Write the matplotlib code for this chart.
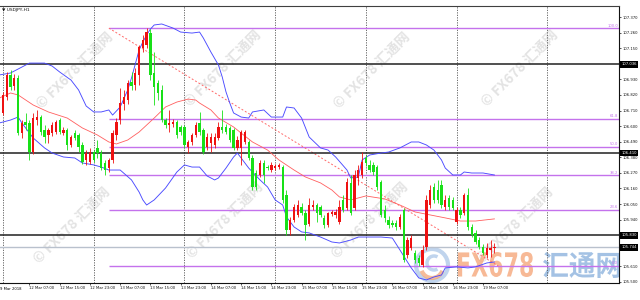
import matplotlib
matplotlib.use("Agg")
import numpy as np
import matplotlib.pyplot as plt
from matplotlib.textpath import TextPath
from matplotlib.patches import PathPatch, Circle, Arc
from matplotlib.font_manager import FontProperties
from matplotlib.transforms import Affine2D, IdentityTransform, blended_transform_factory

# ---------------- data (USDJPY H1, bar index 0 = 12 Mar 00:00) ----------------
hours = list(range(131))
opens = [106.693, 106.806, 106.961, 106.883, 106.940, 106.551, 106.629, 106.622, 106.417, 106.643,
         106.664, 106.573, 106.537, 106.551, 106.558, 106.643, 106.551, 106.573, 106.467, 106.551,
         106.537, 106.467, 106.361, 106.347, 106.417, 106.446, 106.410, 106.340, 106.304, 106.361,
         106.537, 106.643, 106.756, 106.784, 106.911, 106.890, 106.961, 107.151, 107.172, 107.257,
         106.975, 106.904, 106.855, 106.643, 106.608, 106.615, 106.629, 106.594, 106.594, 106.453,
         106.488, 106.537, 106.622, 106.573, 106.453, 106.481, 106.467, 106.516, 106.594, 106.594,
         106.587, 106.573, 106.446, 106.446, 106.488, 106.488, 106.375, 106.269, 106.255, 106.340,
         106.311, 106.290, 106.304, 106.311, 106.311, 106.114, 105.867, 105.937, 105.973, 106.029,
         105.987, 105.909, 106.029, 106.043, 106.029, 105.952, 105.902, 105.980, 105.973, 105.923,
         106.079, 106.022, 106.199, 106.022, 106.234, 106.255, 106.375, 106.326, 106.326, 106.311,
         106.206, 106.008, 105.937, 105.916, 105.916, 105.888, 106.008, 105.690, 105.740, 105.705,
         105.669, 105.620, 105.747, 106.043, 106.170, 106.149, 106.184, 106.029, 106.093, 106.079,
         105.923, 106.008, 105.987, 106.114, 105.888, 105.846, 105.796, 105.747, 105.690, 105.726,
         105.740]
highs = [106.841, 106.982, 106.996, 106.968, 106.961, 106.643, 106.693, 106.643, 106.693, 106.714,
         106.678, 106.608, 106.587, 106.629, 106.643, 106.657, 106.594, 106.587, 106.537, 106.573,
         106.551, 106.488, 106.431, 106.446, 106.431, 106.502, 106.431, 106.361, 106.375, 106.573,
         106.657, 106.869, 106.855, 106.925, 106.982, 107.010, 107.172, 107.243, 107.292, 107.285,
         107.123, 106.925, 106.890, 106.657, 106.714, 106.650, 106.643, 106.608, 106.608, 106.502,
         106.551, 106.629, 106.700, 106.587, 106.551, 106.551, 106.551, 106.629, 106.714, 106.615,
         106.601, 106.587, 106.530, 106.573, 106.573, 106.502, 106.396, 106.290, 106.361, 106.361,
         106.326, 106.347, 106.333, 106.340, 106.326, 106.149, 105.959, 106.050, 106.079, 106.057,
         106.008, 106.093, 106.079, 106.057, 106.043, 105.973, 105.994, 106.008, 106.015, 106.079,
         106.114, 106.234, 106.255, 106.290, 106.326, 106.417, 106.396, 106.361, 106.347, 106.326,
         106.220, 106.043, 105.966, 105.937, 105.937, 105.980, 106.022, 105.817, 105.832, 105.726,
         105.690, 105.761, 106.114, 106.184, 106.199, 106.220, 106.220, 106.114, 106.114, 106.100,
         106.029, 106.029, 106.128, 106.163, 105.909, 105.867, 105.817, 105.768, 105.775, 105.796,
         105.775]
lows = [106.678, 106.784, 106.855, 106.855, 106.537, 106.516, 106.573, 106.361, 106.403, 106.608,
        106.537, 106.481, 106.481, 106.530, 106.544, 106.544, 106.537, 106.431, 106.453, 106.502,
        106.417, 106.333, 106.326, 106.333, 106.347, 106.375, 106.290, 106.255, 106.276, 106.340,
        106.502, 106.615, 106.714, 106.756, 106.855, 106.855, 106.890, 107.123, 107.151, 106.925,
        106.749, 106.784, 106.629, 106.587, 106.558, 106.594, 106.516, 106.537, 106.446, 106.410,
        106.467, 106.523, 106.537, 106.403, 106.431, 106.417, 106.446, 106.502, 106.551, 106.544,
        106.488, 106.431, 106.431, 106.326, 106.474, 106.361, 106.149, 106.149, 106.241, 106.199,
        106.290, 106.276, 106.290, 106.297, 106.057, 105.832, 105.832, 105.923, 105.959, 105.973,
        105.796, 105.895, 106.008, 105.923, 105.959, 105.881, 105.888, 105.966, 105.952, 105.909,
        105.994, 106.008, 105.973, 106.008, 106.184, 106.234, 106.319, 106.276, 106.255, 106.149,
        105.959, 105.923, 105.881, 105.888, 105.867, 105.874, 105.641, 105.669, 105.726, 105.634,
        105.613, 105.606, 105.726, 106.022, 106.057, 106.057, 106.022, 106.008, 106.008, 106.008,
        105.909, 105.952, 105.973, 105.867, 105.817, 105.768, 105.733, 105.690, 105.669, 105.676,
        105.705]
closes = [106.820, 106.961, 106.876, 106.940, 106.551, 106.622, 106.608, 106.417, 106.657, 106.664,
          106.558, 106.523, 106.573, 106.608, 106.629, 106.558, 106.573, 106.467, 106.523, 106.516,
          106.453, 106.347, 106.410, 106.417, 106.361, 106.410, 106.304, 106.290, 106.361, 106.551,
          106.629, 106.763, 106.806, 106.904, 106.883, 106.975, 107.158, 107.208, 107.264, 106.961,
          106.876, 106.834, 106.643, 106.608, 106.622, 106.629, 106.537, 106.558, 106.467, 106.488,
          106.537, 106.608, 106.558, 106.417, 106.523, 106.523, 106.523, 106.594, 106.573, 106.558,
          106.502, 106.446, 106.502, 106.558, 106.558, 106.375, 106.170, 106.170, 106.340, 106.255,
          106.304, 106.326, 106.319, 106.326, 106.079, 105.867, 105.937, 106.029, 106.043, 105.987,
          105.902, 106.043, 106.043, 105.987, 105.973, 105.902, 105.987, 105.994, 105.994, 106.029,
          106.008, 106.206, 105.987, 106.255, 106.290, 106.347, 106.340, 106.290, 106.276, 106.170,
          105.973, 105.952, 105.902, 105.902, 105.888, 105.959, 105.655, 105.796, 105.810, 105.655,
          105.634, 105.726, 106.079, 106.149, 106.079, 106.079, 106.043, 106.079, 106.029, 106.022,
          106.008, 105.973, 106.114, 105.888, 105.832, 105.782, 105.747, 105.705, 105.740, 105.740,
          105.744]

# Bollinger bands
upper_idx = [-1, 2, 7, 11, 13, 15, 18, 20, 22, 24, 26, 28, 29, 31, 33, 34, 35, 36, 37, 38,
             39, 40, 42, 45, 47, 50, 52, 53, 55, 57, 58, 59, 60, 61, 63, 65, 66, 69, 71, 74,
             75, 77, 79, 81, 84, 86, 88, 91, 92, 94, 95, 97, 100, 102, 105, 108, 110, 112, 114, 116,
             117, 119, 121, 122, 124, 127, 130]
upper_val = [106.961, 106.975, 107.045, 107.045, 107.024, 106.982, 106.925, 106.855, 106.742, 106.700,
             106.700, 106.714, 106.678, 106.735, 106.855, 106.940, 107.038, 107.137, 107.194, 107.243,
             107.285, 107.314, 107.321, 107.292, 107.264, 107.257, 107.264, 107.222, 107.123, 107.031,
             106.947, 106.841, 106.763, 106.693, 106.664, 106.657, 106.700, 106.714, 106.664, 106.664,
             106.735, 106.728, 106.657, 106.523, 106.446, 106.431, 106.382, 106.290, 106.234, 106.241,
             106.361, 106.396, 106.410, 106.417, 106.446, 106.488, 106.488, 106.467, 106.431, 106.361,
             106.304, 106.255, 106.255, 106.276, 106.269, 106.269, 106.255]
mid_idx = [-1, 2, 4, 8, 12, 17, 21, 25, 28, 30, 33, 36, 40, 43, 46, 49, 51, 52, 55, 57,
           61, 63, 66, 70, 73, 77, 80, 84, 87, 89, 92, 96, 101, 105, 109, 113, 117, 121, 125, 130]
mid_val = [106.798, 106.834, 106.820, 106.749, 106.700, 106.657, 106.587, 106.537, 106.488, 106.474,
           106.502, 106.558, 106.657, 106.735, 106.770, 106.791, 106.784, 106.763, 106.714, 106.657,
           106.594, 106.551, 106.488, 106.431, 106.361, 106.290, 106.241, 106.199, 106.149, 106.100,
           106.079, 106.107, 106.086, 106.043, 105.994, 105.973, 105.952, 105.930, 105.930, 105.945]
lower_idx = [-1, 2, 4, 5, 8, 11, 13, 16, 19, 21, 24, 26, 28, 31, 34, 36, 37, 38, 40, 43,
             46, 48, 50, 52, 54, 56, 57, 59, 61, 62, 63, 65, 68, 70, 72, 74, 75, 77, 79, 81,
             84, 87, 89, 92, 94, 97, 100, 103, 105, 107, 108, 110, 112, 114, 116, 117, 120, 123, 125, 128,
             130]
lower_val = [106.622, 106.643, 106.664, 106.622, 106.516, 106.446, 106.410, 106.382, 106.375, 106.340,
             106.326, 106.311, 106.290, 106.290, 106.220, 106.135, 106.079, 106.043, 106.079, 106.163,
             106.276, 106.326, 106.311, 106.311, 106.248, 106.220, 106.234, 106.304, 106.382, 106.410,
             106.375, 106.304, 106.220, 106.170, 106.079, 106.043, 105.959, 105.888, 105.853, 105.846,
             105.817, 105.782, 105.775, 105.796, 105.817, 105.817, 105.817, 105.810, 105.726, 105.641,
             105.599, 105.528, 105.514, 105.535, 105.549, 105.599, 105.606, 105.599, 105.606, 105.634,
             105.641]

# Fibonacci retracement anchors and levels
fib_idx = [28, 131]
fib_price = [107.292, 105.613]
fib_levels = [0.0, 23.6, 38.2, 50.0, 61.8, 100.0]

# horizontal lines and current price
hline_prices = [107.036, 106.410, 105.830]
current_price = 105.744

# axes ticks
ytick_vals = [107.370, 107.260, 107.150, 106.930, 106.820, 106.710, 106.600, 106.490,
              106.380, 106.270, 106.160, 106.050, 105.940, 105.610, 105.500]
sep_idx = [0, 24, 48, 72, 96, 120, 144]
xt_idx = [7, 15, 23, 31, 39, 47, 55, 63, 71, 79, 87, 95, 103, 111, 119, 127]
xt_labels = ["12 Mar 07:00", "12 Mar 15:00", "12 Mar 23:00", "13 Mar 07:00", "13 Mar 15:00",
             "13 Mar 23:00", "14 Mar 07:00", "14 Mar 15:00", "14 Mar 23:00", "15 Mar 07:00",
             "15 Mar 15:00", "15 Mar 23:00", "16 Mar 07:00", "16 Mar 15:00", "16 Mar 23:00",
             "19 Mar 07:00"]
first_label = "9 Mar 2018"
title = "USDJPY,H1"

# ---------------- figure ----------------
RED = "#ee1111"
GREEN = "#18e018"
VIOLET = "#c472ec"
FS = 2.7

fig = plt.figure(figsize=(6.4, 3.0), dpi=100)
fig.patch.set_facecolor("white")
ax = fig.add_axes([0.0, 1 - 282.5 / 300, 619 / 640, (282.5 - 6) / 300])
ax.set_facecolor("white")
ax.set_xlim(-0.79, 162.96)
ax.set_ylim(105.496, 107.448)

cjk = ["Noto Sans CJK SC", "DejaVu Sans"]

# watermarks (display pixel coords)
wm_pos = [(75, 230), (223, 232), (372, 230), (520, 232),
          (72, 75), (225, 80), (370, 80), (515, 75)]
for (px, py) in wm_pos:
    ax.text(px, py, "© FX678 汇通网", transform=IdentityTransform(), fontsize=10,
            family=cjk, weight="bold", color="#c8c8c8", alpha=0.5, rotation=45,
            ha="center", va="center", rotation_mode="anchor", zorder=0.5)

# big bottom-right logo
fpl = FontProperties(family="DejaVu Sans", weight="bold")
tp = TextPath((0, 0), "FX678", size=100, prop=fpl)
bb = tp.get_extents()
tr = Affine2D().translate(-bb.x0, -bb.y0).scale(75 / bb.width, 25 / bb.height).translate(458, 23)
ax.add_artist(PathPatch(tr.transform_path(tp), transform=IdentityTransform(), fc="#f5a273",
                        ec="none", alpha=0.75, zorder=0.6, clip_on=False))
fpc = FontProperties(family="Noto Sans CJK SC", weight="bold")
tp2 = TextPath((0, 0), "汇通网", size=100, prop=fpc)
bb2 = tp2.get_extents()
tr2 = Affine2D().translate(-bb2.x0, -bb2.y0).scale(77 / bb2.width, 26 / bb2.height).translate(543, 22)
ax.add_artist(PathPatch(tr2.transform_path(tp2), transform=IdentityTransform(), fc="#86aedb",
                        ec="none", alpha=0.75, zorder=0.6, clip_on=False))
ax.add_artist(Circle((432, 35), 16, transform=IdentityTransform(), fc="none", ec="#a6c2e6",
                     lw=3.0, alpha=0.7, zorder=0.6, clip_on=False))
ax.add_artist(Arc((432, 33), 22, 22, theta1=200, theta2=340, transform=IdentityTransform(),
                  ec="#f3a06e", lw=3.0, alpha=0.7, zorder=0.6, clip_on=False))
ax.add_artist(Arc((434, 37), 14, 14, theta1=60, theta2=300, transform=IdentityTransform(),
                  ec="#a6c2e6", lw=2.5, alpha=0.7, zorder=0.6, clip_on=False))

# day separators
for s in sep_idx:
    ax.axvline(s, color="#555555", lw=0.6, ls=(0, (1.5, 1.5)), zorder=1)

# fibonacci
fhi, flo = fib_price[0], fib_price[1]
for lv in fib_levels:
    p = flo + (fhi - flo) * lv / 100.0
    ax.hlines(p, fib_idx[0], 162.96, color=VIOLET, lw=1.0, zorder=2)
    ax.text(162.7, p + 0.004, f"{lv:.1f}", color=VIOLET, fontsize=FS, ha="right", va="bottom", zorder=6)
ax.plot(fib_idx, fib_price, color="#ff6a6a", lw=0.7, ls=(0, (2, 2)), zorder=2)

# horizontal lines
ax.axhline(current_price, color="#b9c1cd", lw=1.0, zorder=2)
for p in hline_prices:
    ax.axhline(p, color="#202020", lw=1.1, zorder=2)

# bands
ax.plot(upper_idx, upper_val, color="#4a4aff", lw=0.65, zorder=3)
ax.plot(lower_idx, lower_val, color="#4a4aff", lw=0.65, zorder=3)
ax.plot(mid_idx, mid_val, color="#ff5f5f", lw=0.6, zorder=3)

# candles
x = np.array(hours)
o = np.array(opens); h = np.array(highs); l = np.array(lows); c = np.array(closes)
up = c >= o
cols = np.where(up, RED, GREEN)
ax.vlines(x, l, h, colors=cols, lw=0.6, zorder=4)
ax.bar(x, np.maximum(np.abs(c - o), 0.004), bottom=np.minimum(o, c), width=0.62,
       color=cols, linewidth=0, zorder=5)

# axes styling
ax.spines["left"].set_visible(False)
ax.spines["top"].set_color("#404040"); ax.spines["top"].set_linewidth(0.8)
ax.spines["right"].set_color("#111111"); ax.spines["right"].set_linewidth(0.8)
ax.spines["bottom"].set_color("#111111"); ax.spines["bottom"].set_linewidth(0.8)

ax.yaxis.tick_right()
ax.set_yticks(ytick_vals)
ax.set_yticklabels([f"{v:.3f}" for v in ytick_vals])
ax.tick_params(axis="y", length=1.5, width=0.5, pad=1.2, labelsize=FS, colors="#111111")
ax.set_xticks(xt_idx)
ax.set_xticklabels(xt_labels, ha="left")
ax.tick_params(axis="x", length=1.5, width=0.5, pad=1.2, labelsize=FS, colors="#111111")
for t in ax.get_xticklabels():
    t.set_horizontalalignment("left")
ax.text(0.0, -0.018, first_label, transform=ax.transAxes, fontsize=FS, ha="left", va="top")

# price boxes on the right axis
btr = blended_transform_factory(ax.transAxes, ax.transData)
for p in hline_prices + [current_price]:
    ax.text(1.004, p, f"{p:.3f}", transform=btr, fontsize=FS, color="white", ha="left", va="center",
            bbox=dict(boxstyle="square,pad=0.35", fc="black", ec="none"), zorder=7, clip_on=False)

# title
ax.text(2, 290, "▼ " + title, transform=IdentityTransform(), fontsize=3.2, ha="left", va="center",
        color="#111111", zorder=7)

fig.savefig("out.png", dpi=100)
